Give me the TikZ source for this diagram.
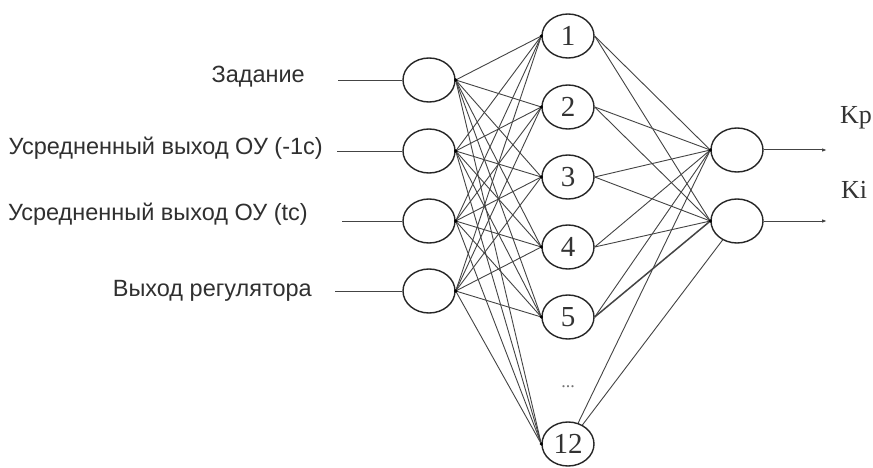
\documentclass[tikz,border=0pt]{standalone}
\usepackage{fontspec}
\setmainfont{Liberation Serif}
\newfontfamily\lsans{Liberation Sans}
\usetikzlibrary{arrows.meta,shapes.geometric}
\definecolor{txt}{HTML}{303030}
\definecolor{lin}{HTML}{444444}
\tikzset{
  neuron/.style={ellipse,draw=black!85,line width=1.4pt,minimum width=52pt,minimum height=44pt,inner sep=0pt,
     font=\fontsize{29}{30}\selectfont,text=black!80},
  conn/.style={draw=lin,line width=0.9pt},
  inlabel/.style={anchor=east,font=\lsans\fontsize{23.5}{26}\selectfont,text=txt,inner sep=0pt},
  outlabel/.style={font=\fontsize{26}{28}\selectfont,text=black!80,inner sep=0pt},
  jdot/.style={circle,fill=black,inner sep=0pt,minimum size=3.6pt},
  outarrow/.style={draw=lin,line width=1pt,-{Latex[length=5pt,width=3.5pt]}}
}
\begin{document}
\begin{tikzpicture}[x=1pt,y=-1pt]
\useasboundingbox[fill=white] (0,0) rectangle (873,468);

% input neurons
\node[neuron] (i1) at (429,80) {};
\node[neuron] (i2) at (429,151) {};
\node[neuron] (i3) at (429,221) {};
\node[neuron] (i4) at (429,291) {};
% hidden neurons
\node[neuron] (h1) at (568,36) {1};
\node[neuron] (h2) at (568,107) {2};
\node[neuron] (h3) at (568,177) {3};
\node[neuron] (h4) at (568,247) {4};
\node[neuron] (h5) at (568,317) {5};
\node[neuron] (h12) at (568,444) {12};
\node[font=\fontsize{18}{20}\selectfont,text=black!55,inner sep=0pt] (dots) at (568,387) {...};
% output neurons
\node[neuron] (o1) at (737,150) {};
\node[neuron] (o2) at (737,221) {};

% input labels
\node[inlabel] (l1) at (305,77) {Задание};
\node[inlabel] (l2) at (323,148) {Усредненный выход ОУ (-1с)};
\node[inlabel] (l3) at (308,214) {Усредненный выход ОУ (tc)};
\node[inlabel] (l4) at (312,291) {Выход регулятора};

% input lines
\coordinate (s1) at (338,80);
\coordinate (s2) at (337,151);
\coordinate (s3) at (342,221);
\coordinate (s4) at (335,291);
\foreach \k in {1,...,4} \draw[conn] (s\k) -- (i\k.west);

% input -> hidden
\foreach \k in {1,...,4}
  \foreach \h in {1,2,3,4,5,12}
    \draw[conn] (i\k.east) -- (h\h.west);

% hidden -> output
\foreach \h in {1,2,3,4}
  \foreach \o in {1,2}
    \draw[conn] (h\h.east) -- (o\o.west);
\draw[conn] (h5.east) -- (o1.west);
\draw[conn,line width=1.5pt] (h5.east) -- (o2.west);
\draw[conn] (h12) -- (o1.west);
\draw[conn] (h12) -- (o2);

% junction dots
\foreach \k in {1,...,4} \node[jdot] at (i\k.east) {};
\foreach \h in {1,2,3,4,5,12} \node[jdot] at (h\h.west) {};
\foreach \o in {1,2} \node[jdot] at (o\o.west) {};

% outputs
\coordinate (e1) at (827,150);
\coordinate (e2) at (827,221);
\draw[outarrow] (o1.east) -- (e1);
\draw[outarrow] (o2.east) -- (e2);
\node[outlabel] (kp) at (856,118) {Kp};
\node[outlabel] (ki) at (854,190) {Ki};
\end{tikzpicture}
\end{document}
